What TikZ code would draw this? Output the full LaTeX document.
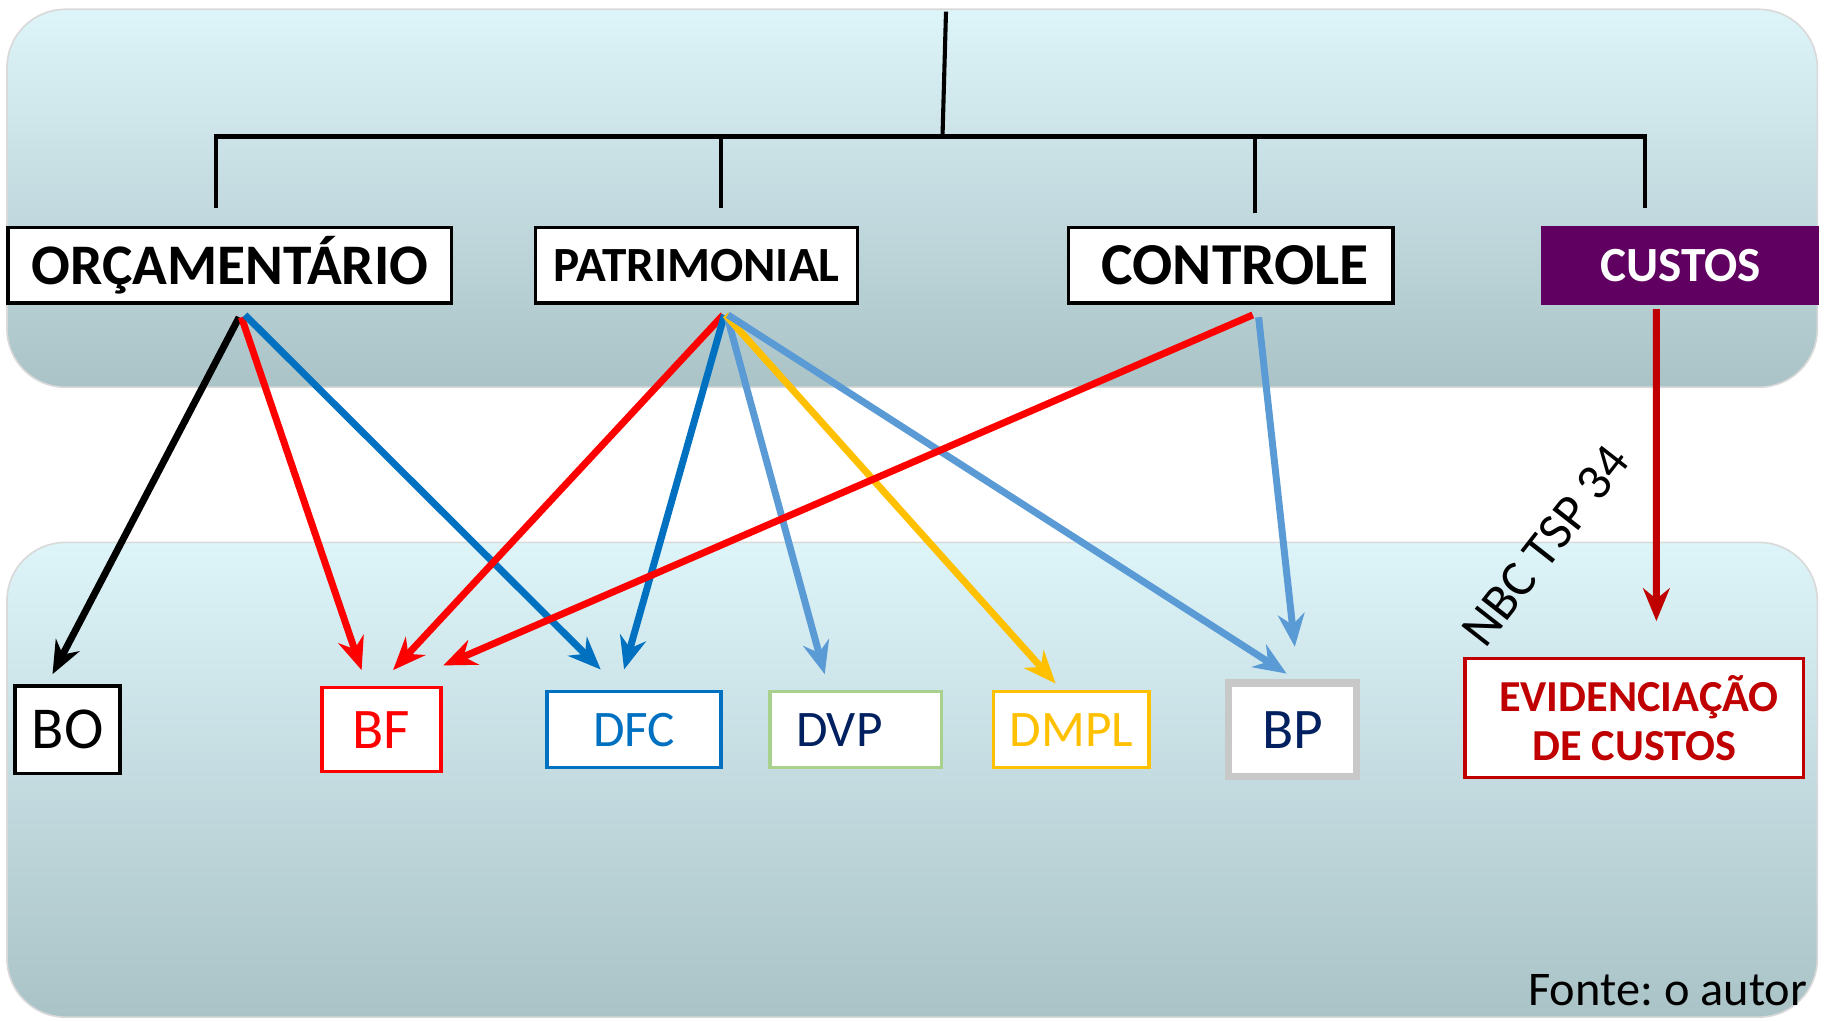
\documentclass[tikz,border=0pt]{standalone}
\usepackage{fontspec}
\setmainfont{Carlito}
\frenchspacing
\usetikzlibrary{positioning,arrows.meta}

\definecolor{panelTop}{HTML}{DDF4F9}
\definecolor{panelBot}{HTML}{AAC3C7}
\definecolor{custosPurple}{HTML}{600060}
\definecolor{darkRed}{HTML}{C00000}
\definecolor{midBlue}{HTML}{0070C0}
\definecolor{lightBlue}{HTML}{5B9BD5}
\definecolor{gold}{HTML}{FFC000}
\definecolor{navy}{HTML}{002060}
\definecolor{paleGreen}{HTML}{A9D18E}
\definecolor{boxGray}{HTML}{C8C8C8}

\tikzset{
  panel/.style={rounded corners=0.5cm, top color=panelTop, bottom color=panelBot, draw=black!15},
  topbox/.style={draw, fill=white, line width=0.9pt, minimum height=0.65cm, inner sep=0pt, outer sep=0pt,
    font=\bfseries\fontsize{#1}{#1}\selectfont},
  demo/.style={draw, fill=white, line width=0.8pt, minimum height=0.65cm, inner sep=0pt, outer sep=0pt,
    font=\fontsize{#1}{#1}\selectfont},
  tree/.style={line width=1pt},
  arr/.style={line width=1.7pt, -{Stealth[length=8pt,width=6.5pt]}},
}

\begin{document}
\begin{tikzpicture}
\useasboundingbox (0,0) rectangle (15.68,8.75);
% panels
\path[panel] (0.06,5.43) rectangle (15.58,8.67);
\path[panel] (0.06,0.03) rectangle (15.58,4.10);

% upper level
\node[topbox=14, minimum width=3.80cm] (orc) at (1.97,6.475) {ORÇAMENTÁRIO};
\node[topbox=12, minimum width=2.76cm, right=0.72cm of orc] (pat) {PATRIMONIAL};
\node[topbox=14.5, minimum width=2.78cm, right=1.81cm of pat] (ctrl) {\hspace{0.08cm}CONTROLE};
\node[topbox=12, minimum width=2.35cm, right=1.29cm of ctrl, fill=custosPurple, draw=custosPurple, text=white] (custos) {CUSTOS};

% tree
\coordinate (root) at (8.11,8.65);
\coordinate (hub) at (8.08,7.58);
\draw[tree] (root) -- (hub);
\draw[tree] ([shift={(-0.12,0.17)}]orc.north) |- (hub);
\draw[tree] ([shift={(0.21,0.17)}]pat.north) |- (hub);
\draw[tree] ([shift={(0.21,0.12)}]ctrl.north) |- (hub);
\draw[tree] ([shift={(-0.305,0.17)}]custos.north) |- (hub);

% statements
\node[demo=14.5, line width=0.9pt, minimum width=0.90cm, minimum height=0.75cm] (bo) at (0.58,2.495) {BO};
\node[demo=14, draw=red, text=red, minimum width=1.02cm, minimum height=0.72cm, right=1.73cm of bo] (bf) {BF};
\node[demo=12.5, draw=midBlue, text=midBlue, minimum width=1.49cm, right=0.91cm of bf] (dfc) {DFC};
\node[demo=12.5, draw=paleGreen, text=navy, minimum width=1.47cm, right=0.42cm of dfc] (dvp) {DVP\rule{0.28cm}{0pt}};
\node[demo=12.5, draw=gold, text=gold, minimum width=1.33cm, right=0.45cm of dvp] (dmpl) {DMPL};
\node[demo=14, draw=boxGray, line width=1.8pt, text=navy, minimum width=1.10cm, minimum height=0.80cm, right=0.68cm of dmpl] (bp) {BP};
\node[demo=11, draw=darkRed, line width=0.9pt, text=darkRed, align=center, minimum width=2.90cm, minimum height=1.02cm,
  right=0.93cm of bp, yshift=0.1cm, font=\bfseries\fontsize{10.8}{12}\selectfont] (evid) {\hspace{0.08cm}EVIDENCIAÇÃO\\DE CUSTOS};

% arrows
\draw[arr] ([shift={(0.08,-0.12)}]orc.south) -- ([shift={(-0.13,0.10)}]bo.north);
\draw[arr, red] ([shift={(0.10,-0.12)}]orc.south) -- ([shift={(-0.17,0.15)}]bf.north);
\draw[arr, midBlue] ([shift={(0.13,-0.10)}]orc.south) -- ([shift={(-0.285,0.19)}]dfc.north);
\draw[arr, red] ([shift={(0.23,-0.10)}]pat.south) -- ([shift={(0.10,0.15)}]bf.north);
\draw[arr, midBlue] ([shift={(0.24,-0.10)}]pat.south) -- ([shift={(-0.085,0.19)}]dfc.north);
\draw[arr, lightBlue] ([shift={(0.26,-0.10)}]pat.south) -- ([shift={(-0.265,0.15)}]dvp.north);
\draw[arr, gold] ([shift={(0.25,-0.10)}]pat.south) -- ([shift={(-0.135,0.07)}]dmpl.north);
\draw[arr, lightBlue] ([shift={(0.27,-0.10)}]pat.south) -- ([shift={(-0.05,0.08)}]bp.north);
\draw[arr, red] ([shift={(0.19,-0.10)}]ctrl.south) -- ([shift={(0.02,0.19)}]bf.north east);
\draw[arr, lightBlue] ([shift={(0.24,-0.12)}]ctrl.south) -- ([shift={(0.02,0.31)}]bp.north);
\draw[arr, darkRed] ([shift={(-0.205,-0.05)}]custos.south) -- ([shift={(0.19,0.32)}]evid.north);

% labels
\node[rotate=52, font=\fontsize{12.5}{12.5}\selectfont] (nbc) at (13.25,4.07) {NBC TSP 34};
\node[anchor=base east, inner sep=0pt, font=\fontsize{11.8}{11.8}\selectfont] (fonte) at (15.50,0.13) {Fonte: o autor};
\end{tikzpicture}
\end{document}
